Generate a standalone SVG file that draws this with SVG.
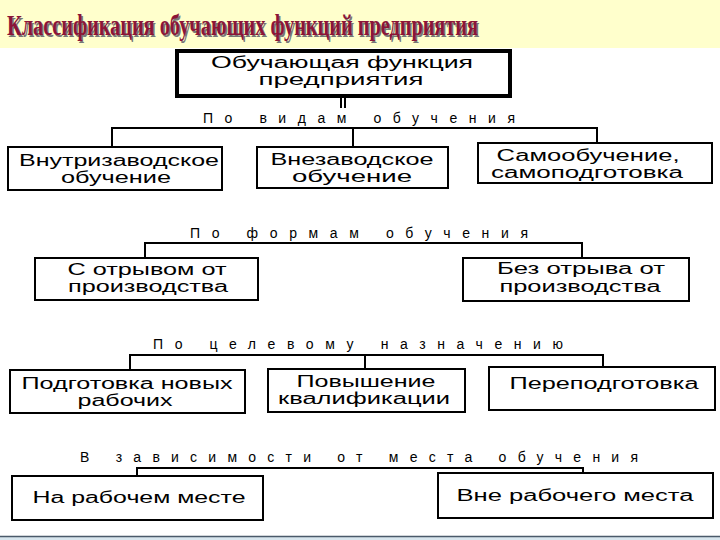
<svg xmlns="http://www.w3.org/2000/svg" width="720" height="540" viewBox="0 0 720 540">
<style>
.box{fill:#fff;stroke:#000;stroke-width:2}
.t{font-family:"Liberation Sans",Arial,sans-serif;font-size:16px;fill:#000;text-anchor:middle}
.h{font-family:"Liberation Sans",Arial,sans-serif;font-size:14px;fill:#000}
.c{stroke:#000;stroke-width:2;fill:none}
.title{font-family:"Liberation Serif","Times New Roman",serif;font-weight:bold;font-size:29px}
</style>
<rect x="0" y="0" width="720" height="540" fill="#fff"/>
<rect x="0" y="0" width="720" height="48" fill="#FFFFCC"/>
<rect x="0" y="537" width="720" height="3" fill="#D8E6EE"/>
<line x1="0" y1="536.5" x2="720" y2="536.5" stroke="#4A5A6A" stroke-width="1.5"/>
<g id="title">
<text class="title" x="8.5" y="36.5" fill="#777" textLength="471" lengthAdjust="spacingAndGlyphs">Классификация обучающих функций предприятия</text>
<text class="title" x="7" y="35" fill="#8B1538" textLength="471" lengthAdjust="spacingAndGlyphs">Классификация обучающих функций предприятия</text>
</g>
<g id="connectors">
<line class="c" x1="341" y1="97" x2="341" y2="108" stroke-width="1.5"/>
<line class="c" x1="345" y1="97" x2="345" y2="108" stroke-width="1.5"/>
<polyline class="c" points="112,147 112,128 597,128 597,143"/>
<line class="c" x1="353" y1="128" x2="353" y2="147"/>
<polyline class="c" points="145,258 145,243 582,243 582,258"/>
<polyline class="c" points="130,370 130,355 603,355 603,367"/>
<line class="c" x1="365" y1="355" x2="365" y2="369"/>
<polyline class="c" points="137,476 137,468 583,468 583,473"/>
</g>
<g id="headings">
<text class="h" x="203" y="123" textLength="312" lengthAdjust="spacing">По видам обучения</text>
<text class="h" x="190" y="238" textLength="338" lengthAdjust="spacing">По формам обучения</text>
<text class="h" x="153" y="349" textLength="410" lengthAdjust="spacing">По целевому назначению</text>
<text class="h" x="80" y="462" textLength="558" lengthAdjust="spacing">В зависимости от места обучения</text>
</g>
<g id="n0">
<rect x="177" y="51" width="333" height="45" fill="#fff" stroke="#000" stroke-width="4"/>
<text class="t" x="342" y="68" font-size="17" textLength="262" lengthAdjust="spacingAndGlyphs">Обучающая функция</text>
<text class="t" x="341" y="85" font-size="17" textLength="165" lengthAdjust="spacingAndGlyphs">предприятия</text>
</g>
<g id="n1">
<rect class="box" x="8" y="147" width="214" height="43"/>
<text class="t" x="119" y="166" textLength="200" lengthAdjust="spacingAndGlyphs">Внутризаводское</text>
<text class="t" x="116" y="183" textLength="110" lengthAdjust="spacingAndGlyphs">обучение</text>
</g>
<g id="n2">
<rect class="box" x="257" y="147" width="191" height="41"/>
<text class="t" x="352" y="165" textLength="163" lengthAdjust="spacingAndGlyphs">Внезаводское</text>
<text class="t" x="352" y="182" textLength="120" lengthAdjust="spacingAndGlyphs">обучение</text>
</g>
<g id="n3">
<rect class="box" x="478" y="143" width="234" height="40"/>
<text class="t" x="588" y="161" textLength="183" lengthAdjust="spacingAndGlyphs">Самообучение,</text>
<text class="t" x="587" y="178" textLength="192" lengthAdjust="spacingAndGlyphs">самоподготовка</text>
</g>
<g id="n4">
<rect class="box" x="35" y="258" width="223" height="42"/>
<text class="t" x="147" y="275" textLength="159" lengthAdjust="spacingAndGlyphs">С отрывом от</text>
<text class="t" x="148" y="292" textLength="160" lengthAdjust="spacingAndGlyphs">производства</text>
</g>
<g id="n5">
<rect class="box" x="463" y="258" width="226" height="43"/>
<text class="t" x="581" y="274" textLength="168" lengthAdjust="spacingAndGlyphs">Без отрыва от</text>
<text class="t" x="580" y="292" textLength="161" lengthAdjust="spacingAndGlyphs">производства</text>
</g>
<g id="n6">
<rect class="box" x="10" y="370" width="235" height="43"/>
<text class="t" x="127" y="389" textLength="211" lengthAdjust="spacingAndGlyphs">Подготовка новых</text>
<text class="t" x="125" y="406" textLength="95" lengthAdjust="spacingAndGlyphs">рабочих</text>
</g>
<g id="n7">
<rect class="box" x="268" y="369" width="197" height="43"/>
<text class="t" x="366" y="387" textLength="139" lengthAdjust="spacingAndGlyphs">Повышение</text>
<text class="t" x="364" y="404" textLength="172" lengthAdjust="spacingAndGlyphs">квалификации</text>
</g>
<g id="n8">
<rect class="box" x="489" y="367" width="226" height="43"/>
<text class="t" x="604" y="389" textLength="189" lengthAdjust="spacingAndGlyphs">Переподготовка</text>
</g>
<g id="n9">
<rect class="box" x="12" y="476" width="251" height="44"/>
<text class="t" x="139" y="503" textLength="213" lengthAdjust="spacingAndGlyphs">На рабочем месте</text>
</g>
<g id="n10">
<rect class="box" x="438" y="473" width="275" height="45"/>
<text class="t" x="575" y="501" textLength="237" lengthAdjust="spacingAndGlyphs">Вне рабочего места</text>
</g>
</svg>
